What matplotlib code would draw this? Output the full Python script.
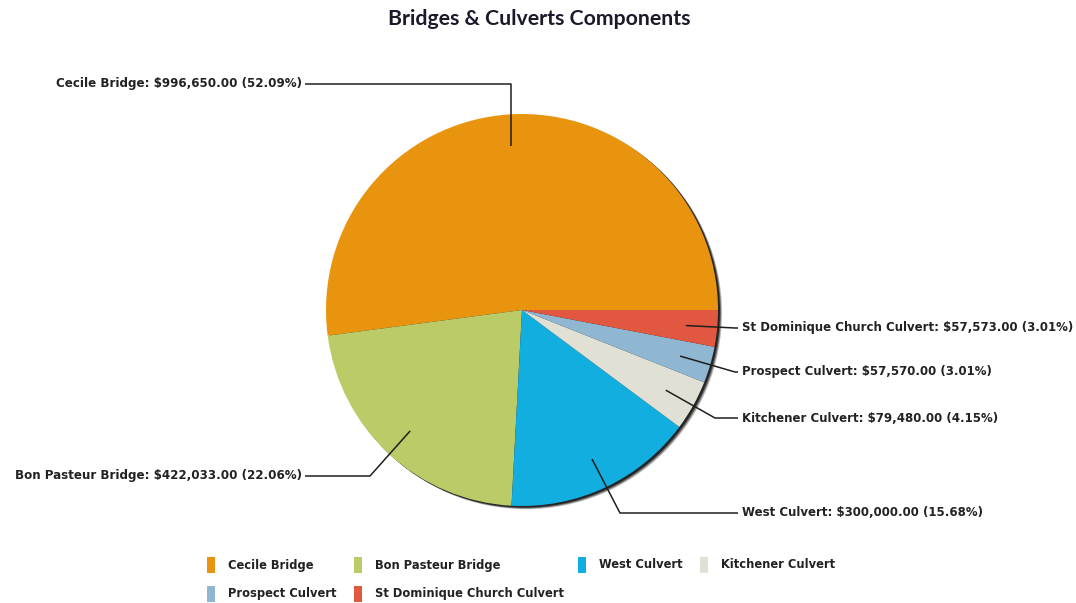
import matplotlib
matplotlib.use('Agg')
import matplotlib.pyplot as plt
from matplotlib.patches import Circle, Rectangle
import numpy as np

# component costs
components = ['Cecile Bridge', 'Bon Pasteur Bridge', 'West Culvert',
              'Kitchener Culvert', 'Prospect Culvert', 'St Dominique Church Culvert']
costs = [996650.00, 422033.00, 300000.00, 79480.00, 57570.00, 57573.00]
colors = ['#E8940F', '#BBCB68', '#12AEE0', '#E0E1D4', '#90B7D2', '#E2573F']

# label layout: elbow point of the leader, end of the leader, text side
elbows = [(None, 84), (370, 476), (620, 513), (715, 418), (735, 372), (735, 328)]
ends = [(305, 84), (305, 476), (738, 513), (738, 418), (738, 372), (738, 328)]
sides = ['left', 'left', 'right', 'right', 'right', 'right']

W, H = 1076, 603
fig = plt.figure(figsize=(W / 100, H / 100), dpi=100)
fig.set_facecolor('w')
ax = fig.add_axes([0, 0, 1, 1])

cx, cy, R = 522, 310, 196

# soft dark rim under the pie
for off, a in [(4, 0.3), (3, 0.5), (2, 0.85)]:
    ax.add_patch(Circle((cx + off, cy + off * 0.8), R, color='#1a1a1a', alpha=a, lw=0, zorder=1))

wedges, _ = ax.pie(costs, colors=colors, startangle=0, counterclock=False,
                   center=(cx, cy), radius=R,
                   wedgeprops=dict(linewidth=0, zorder=2))
for w in wedges:
    w.set_zorder(2)

ax.set_xlim(0, W)
ax.set_ylim(H, 0)
ax.set_aspect('equal')
ax.axis('off')

total = sum(costs)
for w, name, v, el, en, side in zip(wedges, components, costs, elbows, ends, sides):
    mid = np.deg2rad((w.theta1 + w.theta2) / 2)
    px = cx + 0.84 * R * np.cos(mid)
    py = cy + 0.84 * R * np.sin(mid)
    ex = px if el[0] is None else el[0]
    ey = el[1]
    ax.plot([px, ex, en[0]], [py, ey, en[1]], color='#1f1f1f', lw=1.1, zorder=3,
            solid_capstyle='butt')
    txt = '{}: ${:,.2f} ({:.2f}%)'.format(name, v, v / total * 100)
    if side == 'left':
        ax.text(en[0] - 3, en[1], txt, ha='right', va='center', fontsize=8.6,
                fontweight='bold', color='#222222', family='DejaVu Sans')
    else:
        ax.text(en[0] + 4, en[1], txt, ha='left', va='center', fontsize=8.5,
                fontweight='bold', color='#222222', family='DejaVu Sans')

ax.text(539, 19, 'Bridges & Culverts Components', ha='center', va='center',
        fontsize=15.3, fontweight='bold', color='#1a1a2a', family='Lato')

# legend
leg_x = [207, 354, 578, 700, 207, 354]
leg_y = [565, 565, 565, 565, 594, 594]
for name, c, lx, ly in zip(components, colors, leg_x, leg_y):
    ax.add_patch(Rectangle((lx, ly - 8), 8, 16, color=c, lw=0))
    ax.text(lx + 21, ly, name, ha='left', va='center', fontsize=8.3,
            fontweight='bold', color='#222222', family='DejaVu Sans')

fig.savefig('out.png', dpi=100, facecolor='w')
